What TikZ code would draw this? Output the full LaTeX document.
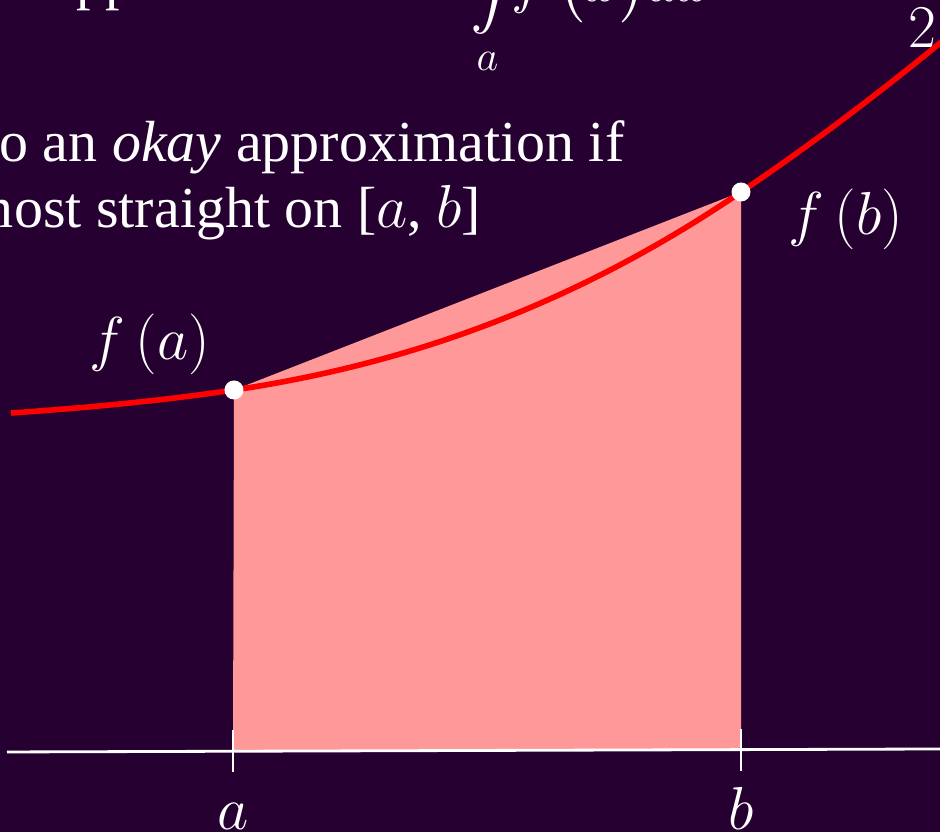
\documentclass[tikz,border=0pt]{standalone}
\usepackage{exscale}
\usepackage[no-math]{fontspec}
\setmainfont{Liberation Serif}
\definecolor{slidebg}{RGB}{38,0,48}
\definecolor{trapfill}{RGB}{255,153,153}
\begin{document}
\begin{tikzpicture}[
    every node/.style={text=white, inner sep=0pt, font=\fontsize{16.5}{19}\selectfont},
    biglabel/.style={font=\fontsize{17.5}{20}\selectfont},
    curve/.style={red, line width=1.6pt},
    axis/.style={white, line width=0.8pt},
    tick/.style={white, line width=0.55pt},
    dot/.style={circle, fill=white, minimum size=0.19cm}
]
    \useasboundingbox (0, 0) rectangle (9.4, 8.32);
    \fill[slidebg] (0, 0) rectangle (9.4, 8.32);
    \clip (0, 0) rectangle (9.4, 8.32);
    \coordinate (fa) at (2.34, 4.42);
    \coordinate (fb) at (7.41, 6.40);
    \coordinate (ta) at (2.33, 0.81);
    \coordinate (tb) at (7.41, 0.82);
    \node (title) [anchor=base west] at (0.50, 8.335){approximation};
    \node (integral) [anchor=base west] at (4.70, 8.50){$\displaystyle\int\limits_a^b \hspace{-0.3cm}\raisebox{-0.2cm}{$f\,\bigl(x\bigr)dx$}$};
    \node (half) [anchor=base] at (9.22, 7.84){$2$};
    \node (lineone) [anchor=base east] at (6.25, 6.70){leads to an \textit{okay} approximation if};
    \node (linetwo) [anchor=base east] at (4.82, 6.04){$f$ is almost straight on [$a$, $b$]};
    \fill[trapfill] (ta) to (fa) to (fb) to (tb) to cycle;
    \draw[axis](0.07, 0.80) to (9.4, 0.83);
        \draw[tick](ta) ++(0, 0.21) to ++(0, -0.42);
        \node (labela) [anchor=base] at (2.33, 0.02){$a$};
        \draw[tick](tb) ++(0, 0.21) to ++(0, -0.42);
        \node (labelb) [anchor=base] at (7.41, 0.02){$b$};
    \draw[curve](0.11, 4.19) .. controls (0.85, 4.24) and (1.60, 4.31) .. (fa)
        .. controls (4.03, 4.67) and (5.72, 5.25) .. (fb)
        .. controls (8.09, 6.86) and (8.77, 7.37) .. (9.45, 7.93);
        \node[dot] (pa) at (fa){};
        \node (fofa) [biglabel, anchor=base] at (1.50, 4.72){$f\left(a\right)$};
        \node[dot] (pb) at (fb){};
        \node (fofb) [biglabel, anchor=base] at (8.46, 5.97){$f\left(b\right)$};
\end{tikzpicture}
\end{document}
